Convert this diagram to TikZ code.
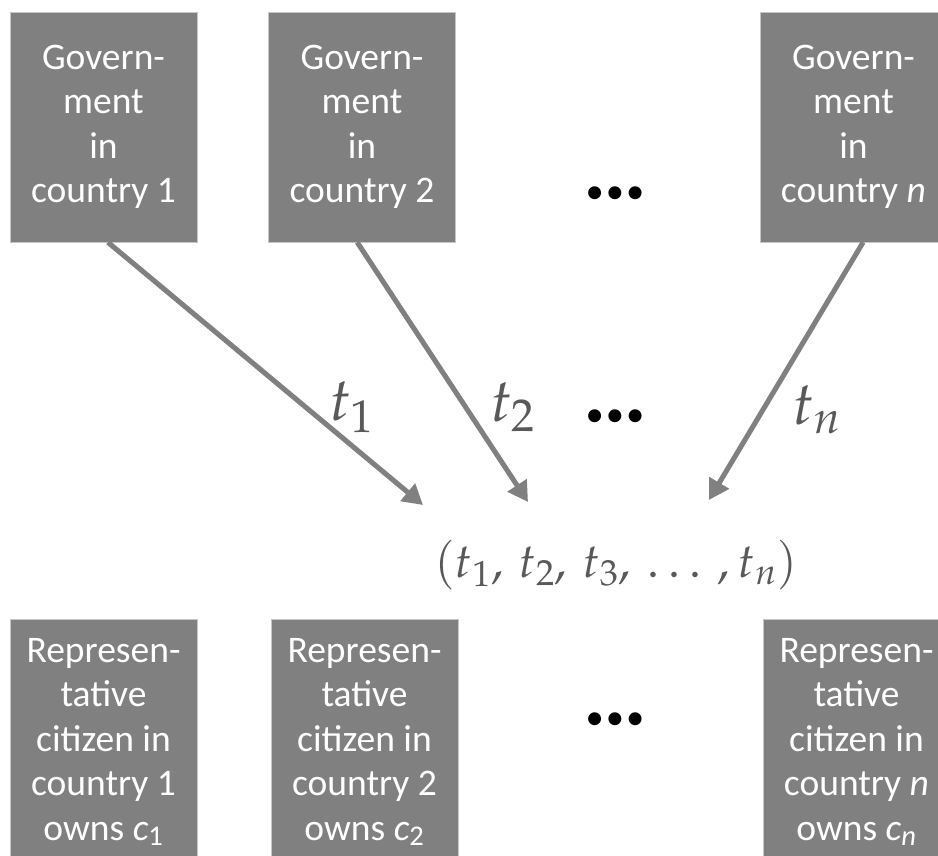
\documentclass[tikz,border=0pt]{standalone}
\usepackage{mathpazo}
\usepackage[no-math]{fontspec}
\setmainfont{Carlito}
\usetikzlibrary{arrows.meta}

\definecolor{boxgray}{RGB}{128,128,128}
\definecolor{labelgray}{RGB}{89,89,89}
\newcommand{\moredotstext}{\textbullet\kern1.5pt\textbullet\kern1.5pt\textbullet}
\tikzset{
  govbox/.style={fill=boxgray, draw=gray!45, line width=0.4pt, text=white,
    align=center, minimum width=4.675cm, minimum height=5.75cm, inner sep=0pt,
    font=\fontsize{26.7}{31.7}\selectfont},
  citbox/.style={govbox, minimum height=6.15cm},
  flow/.style={boxgray, line width=3.6pt, -{Triangle[length=0.5cm,width=0.55cm]}},
  tlabel/.style={text=labelgray, font=\fontsize{43}{48}\selectfont},
  tuplelabel/.style={text=labelgray, font=\fontsize{34}{40}\selectfont},
  moredots/.style={font=\fontsize{26}{30}\selectfont}
}

\begin{document}
\begin{tikzpicture}
  \useasboundingbox (0,0) rectangle (23.45,21.4);
  % governments
  \node[govbox] (gov1) at (2.5875,18.225) {Govern-\\ment\\in\\country 1};
  \node[govbox] (gov2) at (9.05,18.225) {Govern-\\ment\\in\\country 2};
  \node[govbox] (govn) at (21.3375,18.225) {Govern-\\ment\\in\\country \textit{n}};
  \node[moredots] (dotsg) at (15.375,16.525) {\moredotstext};
  % citizens
  \node[citbox] (cit1) at (2.5875,2.85) {Represen-\\tative\\citizen in\\country 1\\owns \textit{c}\textsubscript{1}};
  \node[citbox] (cit2) at (9.1125,2.85) {Represen-\\tative\\citizen in\\country 2\\owns \textit{c}\textsubscript{2}};
  \node[citbox] (citn) at (21.4125,2.85) {Represen-\\tative\\citizen in\\country \textit{n}\\owns \textit{c}\textsubscript{\textit{n}}};
  \node[moredots] (dotsc) at (15.375,3.375) {\moredotstext};
  % taxes
  \coordinate (in1) at (10.575,8.775);
  \coordinate (in2) at (13.2,8.85);
  \coordinate (inn) at (17.725,8.9);
  \draw[flow] ([xshift=0.11cm]gov1.south) -- (in1);
  \draw[flow] ([xshift=-0.12cm]gov2.south) -- (in2);
  \draw[flow] ([xshift=0.24cm]govn.south) -- (inn);
  \node[tlabel] (t1) at (8.8,11.225) {$t_1$};
  \node[tlabel] (t2) at (12.825,11.225) {$t_2$};
  \node[moredots] (dotst) at (15.375,10.95) {\moredotstext};
  \node[tlabel] (tn) at (20.425,11.15) {$t_n$};
  \node[tuplelabel] (tuple) at (15.4,7.275) {$(t_1,\, t_2,\, t_3,\, \ldots\,, t_n)$};
\end{tikzpicture}
\end{document}
